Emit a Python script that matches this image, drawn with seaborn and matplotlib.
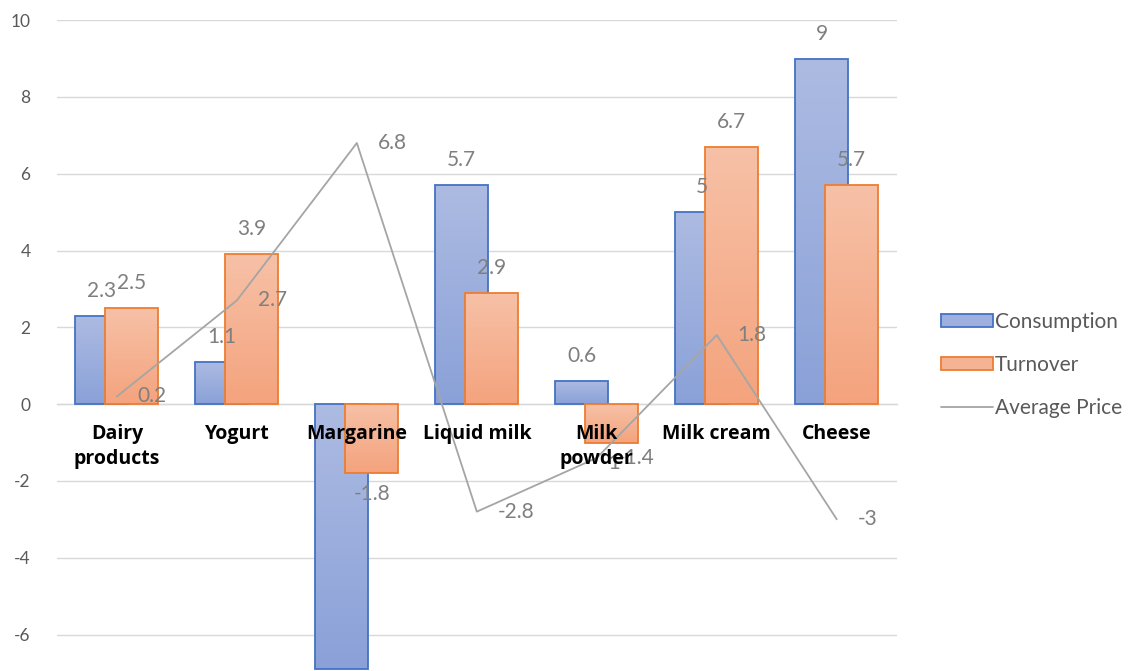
import numpy as np
import pandas as pd
import matplotlib
matplotlib.use("Agg")
import matplotlib.pyplot as plt
from matplotlib.colors import LinearSegmentedColormap
from matplotlib.patches import Patch
from matplotlib.lines import Line2D
import seaborn as sns

categories = ["Dairy\nproducts", "Yogurt", "Margarine", "Liquid milk",
              "Milk\npowder", "Milk cream", "Cheese"]
consumption = [2.3, 1.1, -6.9, 5.7, 0.6, 5, 9]
turnover = [2.5, 3.9, -1.8, 2.9, -1, 6.7, 5.7]
average_price = [0.2, 2.7, 6.8, -2.8, -1.4, 1.8, -3]
series_names = ["Consumption", "Turnover", "Average Price"]

sns.set_theme(style="white")
plt.rcParams["font.family"] = ["Lato", "DejaVu Sans"]
plt.rcParams["axes.unicode_minus"] = False

LABEL_GREY = "#7f7f7f"
TICK_GREY = "#595959"
GRID_GREY = "#d9d9d9"

fig = plt.figure(figsize=(11.38, 6.71), dpi=100)
ax = fig.add_axes([0.05, 0.0, 0.738, 0.970])
YMIN, YMAX = -6.95, 10

pos = np.arange(len(categories))
shift = 0.125
bar_w = 0.44

df_c = pd.DataFrame({"x": pos - shift, "y": consumption})
df_t = pd.DataFrame({"x": pos + shift, "y": turnover})

sns.barplot(data=df_c, x="x", y="y", native_scale=True, width=bar_w,
            color="#9db0de", edgecolor="#4472c4", linewidth=1.3,
            errorbar=None, ax=ax, zorder=3)
n_c = len(ax.patches)
sns.barplot(data=df_t, x="x", y="y", native_scale=True, width=bar_w,
            color="#f5b393", edgecolor="#ed7d31", linewidth=1.3,
            errorbar=None, ax=ax, zorder=4)

# vertical gradient fill clipped to each bar
blue_cmap = LinearSegmentedColormap.from_list("b", ["#8aa1d8", "#adbbe2"])
orange_cmap = LinearSegmentedColormap.from_list("o", ["#f4a37d", "#f7c1a7"])
grad = np.linspace(0, 1, 256).reshape(-1, 1)
for i, p in enumerate(ax.patches):
    cmap = blue_cmap if i < n_c else orange_cmap
    x0, y0 = p.get_x(), p.get_y()
    w, h = p.get_width(), p.get_height()
    ylo, yhi = min(y0, y0 + h), max(y0, y0 + h)
    im = ax.imshow(grad, cmap=cmap, origin="lower", aspect="auto",
                   extent=[x0, x0 + w, ylo, yhi], zorder=p.get_zorder() - 0.01,
                   interpolation="bicubic")
    im.set_clip_path(p)
    p.set_facecolor("none")

sns.lineplot(x=pos, y=average_price, color="#a5a5a5", linewidth=1.3,
             ax=ax, zorder=5)

# value labels (skipped when they would fall below the visible range)
for xs, vals in ((pos - shift, consumption), (pos + shift, turnover)):
    for x, v in zip(xs, vals):
        off = 18 if v >= 0 else -15
        if v < YMIN + 0.6:
            continue
        ax.annotate(f"{v:g}", (x, v), xytext=(0, off), textcoords="offset points",
                    ha="center", va="center", fontsize=15, color=LABEL_GREY,
                    zorder=6)
for x, v in zip(pos, average_price):
    ax.annotate(f"{v:g}", (x, v), xytext=(15, 0), textcoords="offset points",
                ha="left", va="center", fontsize=15, color=LABEL_GREY, zorder=6)

ax.set_xlim(-0.5, len(categories) - 0.5)
ax.set_ylim(YMIN, YMAX)
ax.set_yticks(np.arange(-6, 11, 2))
ax.yaxis.grid(True, color=GRID_GREY, linewidth=1.0, zorder=0)
ax.set_axisbelow(True)

# category names sit just under the zero line, drawn above the bars
ax.set_xticks(pos)
ax.set_xticklabels([])
for x, name in zip(pos, categories):
    ax.annotate(name, (x, 0), xytext=(0, -14), textcoords="offset points",
                ha="center", va="top", multialignment="center",
                fontsize=14, fontweight="bold", color="black",
                family=["Open Sans", "DejaVu Sans"], linespacing=1.35,
                zorder=10)
ax.tick_params(axis="x", length=0)
ax.tick_params(axis="y", length=0, pad=19, labelsize=12.5, labelcolor=TICK_GREY)
ax.set_xlabel("")
ax.set_ylabel("")

for s in ("top", "right", "left"):
    ax.spines[s].set_visible(False)
ax.spines["bottom"].set_position(("data", 0))
ax.spines["bottom"].set_color(GRID_GREY)
ax.spines["bottom"].set_linewidth(1.0)
ax.spines["bottom"].set_zorder(2)

handles = [
    Patch(facecolor="#9db0de", edgecolor="#4472c4", linewidth=1.3),
    Patch(facecolor="#f5b393", edgecolor="#ed7d31", linewidth=1.3),
    Line2D([0], [0], color="#a5a5a5", linewidth=1.3),
]
fig.legend(handles, series_names, loc="center left",
           bbox_to_anchor=(0.810, 0.456), frameon=False, fontsize=15,
           labelcolor=TICK_GREY, handlelength=2.5, handleheight=0.58,
           handletextpad=0.12, labelspacing=1.1)

fig.savefig("out.png", dpi=100)
